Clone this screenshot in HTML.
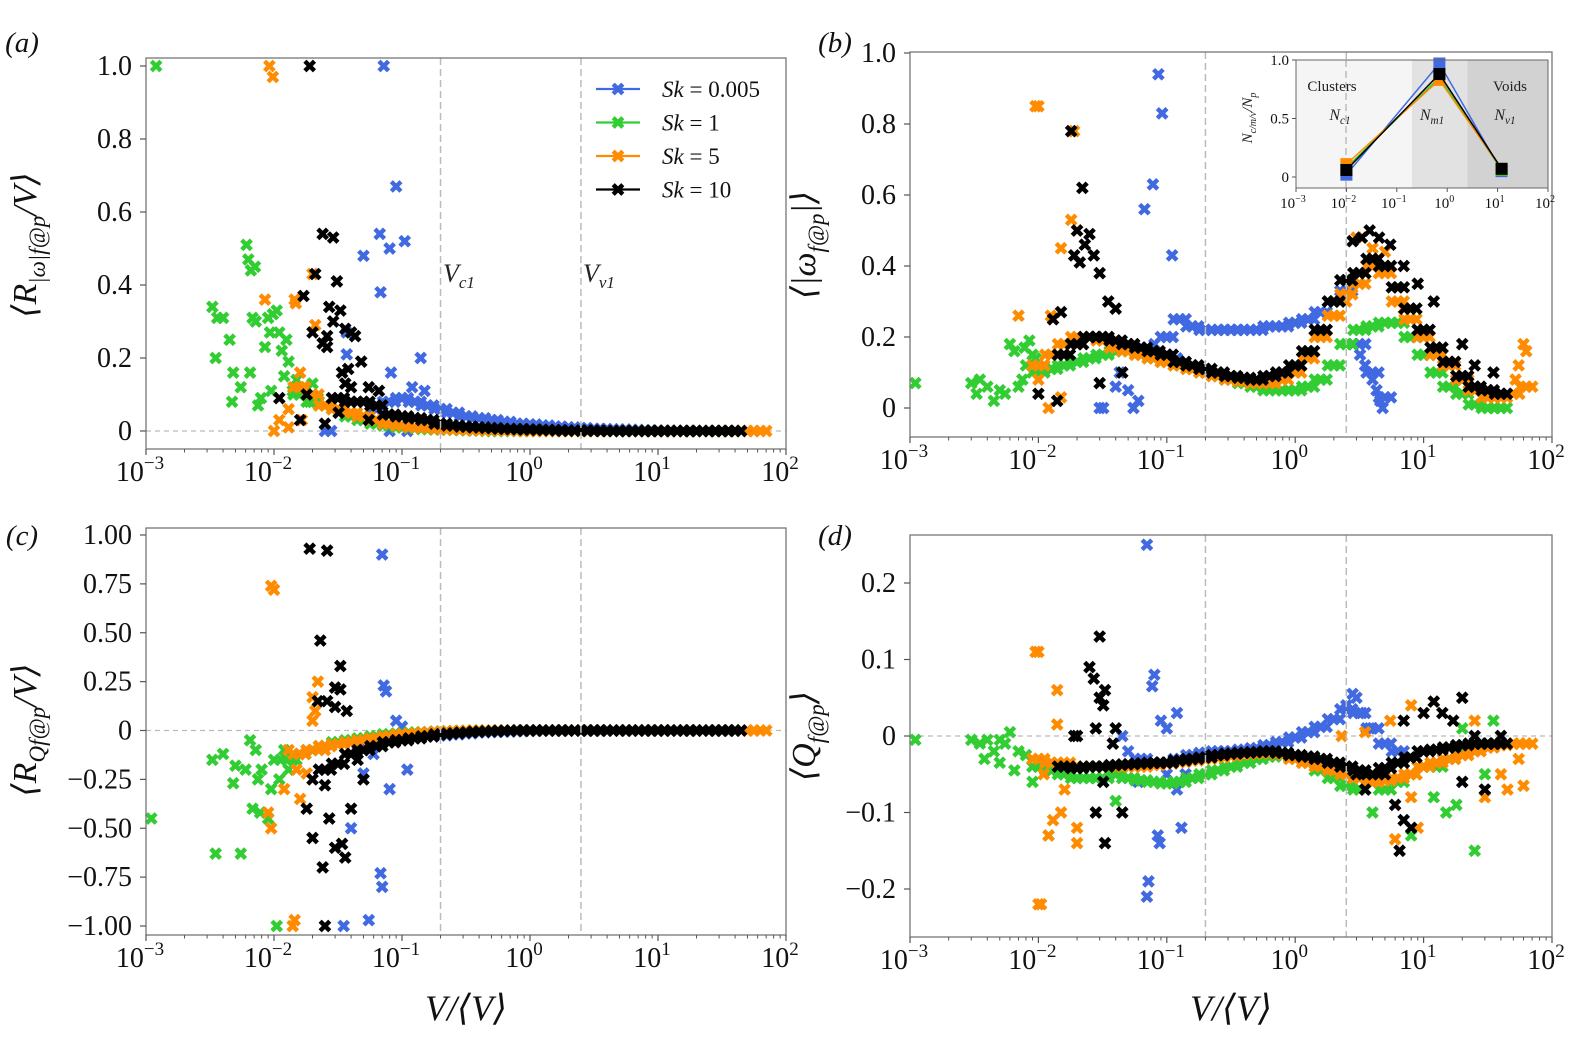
<!DOCTYPE html>
<html><head><meta charset="utf-8"><style>
html,body{margin:0;padding:0;background:#fff;}
svg, svg text{font-family:"Liberation Serif","DejaVu Serif",serif;}
svg{display:block;}
</style></head><body>
<svg id="fig" width="1575" height="1064" viewBox="0 0 1575 1064" xmlns="http://www.w3.org/2000/svg" font-family="Liberation Serif, serif"></svg>
<script>
// ---------- data ----------
const grid = [0.010,0.0126,0.0158,0.020,0.025,0.0316,0.040,0.050,0.063,0.079,0.10,0.126,0.158,0.20,0.25,0.316,0.40,0.50,0.63,0.79,1.0,1.26,1.58,2.0,2.5,3.16,4.0,5.0,6.3,7.9,10,12.6,15.8,20,25,31.6,40,50,63];
const seriesNames = ["Sk = 0.005","Sk = 1","Sk = 5","Sk = 10"];
const seriesColors = ["#4169e1","#32cd32","#ff8c00","#000000"];
const vLines = [0.2, 2.5];
const N = null;

// panel a bands
const aBandBlue = [N,N,N,N,N,N,N,N,0.06,0.08,0.09,0.08,0.07,0.06,0.05,0.04,0.035,0.03,0.025,0.02,0.018,0.015,0.012,0.01,0.008,0.006,0.005,0.004,0.003,0.002,0.001,0.001,0,0,0,0,0,N,N];
const aBandGreen = [N,N,0.1,0.08,0.07,0.06,0.04,0.03,0.02,0.015,0.01,0.008,0.005,0.004,0.003,0.002,0.001,0,0,0,0,0,0,0,0,0,0,0,0,0,0,0,0,0,0,0,0,N,N];
const aBandOrange = [N,N,0.12,0.1,0.07,0.06,0.05,0.04,0.03,0.02,0.015,0.01,0.008,0.005,0.004,0.003,0.002,0.002,0.001,0.001,0,0,0,0,0,0,0,0,0,0,0,0,0,0,0,0,0,0,0];
const aBandBlack = [N,N,N,N,N,0.09,0.08,0.08,0.07,0.045,0.04,0.035,0.03,0.02,0.015,0.012,0.01,0.008,0.006,0.005,0.004,0.003,0.002,0.001,0.001,0.001,0,0,0,0,0,0,0,0,0,0,0,N,N];
const aPtsBlueX = [0.072,0.09,0.067,0.08,0.105,0.05,0.068,0.037,0.14,0.037,0.082,0.12,0.15,0.025,0.028,0.08,0.11];
const aPtsBlueY = [1.0,0.67,0.54,0.50,0.52,0.48,0.38,0.27,0.20,0.21,0.16,0.12,0.11,0,0,0,0];
const aPtsGreenX = [0.0012,0.0033,0.0035,0.0036,0.004,0.0045,0.0047,0.0048,0.0055,0.0061,0.0063,0.0065,0.0066,0.0068,0.0071,0.0072,0.0075,0.0079,0.0085,0.009,0.0093,0.0095,0.0098,0.0105,0.011,0.0115,0.012,0.0125,0.013,0.014,0.015,0.017,0.019,0.02,0.022];
const aPtsGreenY = [1.0,0.34,0.20,0.31,0.31,0.25,0.08,0.16,0.12,0.51,0.47,0.16,0.44,0.31,0.45,0.30,0.07,0.09,0.23,0.31,0.27,0.11,0.32,0.33,0.27,0.22,0.15,0.25,0.19,0.11,0.14,0.12,0.08,0.13,0.09];
const aPtsOrangeX = [0.0092,0.0098,0.0085,0.0145,0.0148,0.02,0.021,0.01,0.011,0.013,0.013,0.0165,0.016,0.017];
const aPtsOrangeY = [1.0,0.97,0.36,0.36,0.35,0.43,0.29,0,0.03,0.06,0.01,0.03,0.16,0.12];
const aPtsBlackX = [0.019,0.024,0.029,0.021,0.031,0.017,0.027,0.033,0.029,0.02,0.026,0.036,0.04,0.043,0.024,0.026,0.048,0.034,0.038,0.036,0.04,0.055,0.066,0.011,0.018,0.032,0.016,0.025,0.055];
const aPtsBlackY = [1.0,0.54,0.53,0.43,0.41,0.37,0.34,0.33,0.30,0.27,0.26,0.28,0.27,0.26,0.24,0.23,0.19,0.16,0.17,0.13,0.12,0.12,0.11,0.09,0.10,0.05,0.03,0.02,0.03];

// panel b
const bBandBlue = [N,N,N,N,N,N,N,N,N,0.15,0.2,0.25,0.23,0.22,0.22,0.22,0.22,0.22,0.23,0.23,0.24,0.25,0.27,0.3,0.33,0.18,0.1,0.03,N,N,N,N,N,N,N,N,N,N,N];
const bBandGreen = [0.1,0.11,0.12,0.13,0.14,0.15,0.16,0.16,0.15,0.14,0.13,0.12,0.11,0.10,0.09,0.08,0.07,0.06,0.05,0.05,0.05,0.06,0.08,0.12,0.18,0.22,0.23,0.24,0.24,0.2,0.15,0.1,0.06,0.04,0.01,0,0,N,N];
const bBandOrange = [0.12,0.15,0.18,0.2,0.2,0.19,0.17,0.16,0.15,0.14,0.13,0.12,0.11,0.10,0.09,0.08,0.075,0.07,0.07,0.08,0.1,0.14,0.2,0.26,0.32,0.35,0.4,0.38,0.3,0.25,0.2,0.15,0.12,0.08,0.05,0.03,0.03,0.04,0.06];
const bBandBlack = [N,N,0.15,0.18,0.2,0.2,0.19,0.18,0.17,0.16,0.15,0.13,0.12,0.11,0.1,0.09,0.085,0.08,0.09,0.1,0.12,0.16,0.22,0.3,0.36,0.38,0.42,0.4,0.34,0.28,0.22,0.17,0.13,0.09,0.06,0.05,0.04,N,N];
const bPtsBlueX = [0.086,0.092,0.078,0.067,0.11,0.043,0.05,0.055,0.03,0.032,0.06,0.08,0.1,0.12,0.04,3.2,3.5,4,4.3,4.6,4.8];
const bPtsBlueY = [0.94,0.83,0.63,0.56,0.43,0.1,0.05,0,0,0,0.02,0.18,0.15,0.14,0.06,0.15,0.12,0.08,0.05,0.02,0];
const bPtsGreenX = [0.0011,0.003,0.0033,0.0035,0.004,0.0045,0.005,0.0055,0.006,0.0065,0.007,0.0075,0.0078,0.008,0.009,0.0085,0.0095,0.01,0.011];
const bPtsGreenY = [0.07,0.07,0.04,0.08,0.06,0.02,0.05,0.04,0.18,0.16,0.06,0.08,0.17,0.12,0.15,0.19,0.14,0.1,0.12];
const bPtsOrangeX = [0.0095,0.01,0.019,0.018,0.02,0.015,0.007,0.0125,0.01,0.012,0.015,60,63,55,52,3,4,5,7,2.5];
const bPtsOrangeY = [0.85,0.85,0.78,0.53,0.5,0.45,0.26,0.26,0.08,0,0.03,0.18,0.16,0.12,0.08,0.48,0.45,0.44,0.28,0.3];
const bPtsBlackX = [0.018,0.022,0.02,0.023,0.025,0.019,0.021,0.027,0.03,0.035,0.04,0.015,0.013,0.01,0.014,0.03,0.045,2.8,3.3,3.8,4.5,5.5,7,9,12,20,25,35];
const bPtsBlackY = [0.78,0.62,0.5,0.46,0.49,0.43,0.41,0.43,0.38,0.3,0.28,0.27,0.25,0.04,0.02,0.07,0.1,0.47,0.48,0.5,0.48,0.46,0.4,0.35,0.3,0.18,0.12,0.1];
// inset
const insetX = [0.01,0.7,12];
const insetBlue = [0.02,0.97,0.05];
const insetGreen = [0.08,0.85,0.06];
const insetOrange = [0.11,0.83,0.07];
const insetBlack = [0.06,0.88,0.07];

// panel c
const cBandBlue = [N,N,N,N,N,N,N,-0.08,-0.06,-0.05,-0.04,-0.035,-0.03,-0.025,-0.02,-0.015,-0.01,-0.008,-0.006,-0.004,-0.002,0,0,0,0,0,0,0,0,0,0,0,0,0,0,0,0,N,N];
const cBandGreen = [N,-0.15,-0.12,-0.1,-0.08,-0.06,-0.05,-0.04,-0.03,-0.02,-0.015,-0.01,-0.008,-0.005,-0.003,-0.002,0,0,0,0,0,0,0,0,0,0,0,0,0,0,0,0,0,0,0,0,0,N,N];
const cBandOrange = [N,N,-0.12,-0.1,-0.08,-0.07,-0.06,-0.05,-0.04,-0.03,-0.02,-0.015,-0.01,-0.006,-0.004,-0.002,0,0,0,0,0,0,0,0,0,0,0,0,0,0,0,0,0,0,0,0,0,0,0];
const cBandBlack = [N,N,N,N,-0.2,-0.17,-0.12,-0.1,-0.08,-0.06,-0.05,-0.04,-0.03,-0.02,-0.015,-0.01,-0.006,-0.004,-0.002,0,0,0,0,0,0,0,0,0,0,0,0,0,0,0,0,0,0,N,N];
const cPtsBlueX = [0.07,0.072,0.075,0.068,0.07,0.055,0.035,0.04,0.08,0.06,0.09,0.1,0.05,0.11];
const cPtsBlueY = [0.9,0.23,0.2,-0.73,-0.8,-0.97,-1.0,-0.5,-0.3,-0.12,0.05,0.02,-0.22,-0.2];
const cPtsGreenX = [0.0011,0.0033,0.0035,0.004,0.0048,0.0055,0.006,0.0065,0.0068,0.0072,0.0078,0.008,0.009,0.0095,0.01,0.0105,0.011,0.012,0.013,0.015,0.005,0.0075];
const cPtsGreenY = [-0.45,-0.15,-0.63,-0.12,-0.27,-0.63,-0.2,-0.05,-0.4,-0.1,-0.42,-0.2,-0.45,-0.3,-0.15,-1.0,-0.25,-0.1,-0.2,-0.15,-0.18,-0.25];
const cPtsOrangeX = [0.0095,0.01,0.014,0.0145,0.009,0.0095,0.012,0.013,0.015,0.02,0.021,0.02,0.022,0.025,0.018,0.016];
const cPtsOrangeY = [0.74,0.72,-1.0,-0.97,-0.42,-0.5,-0.3,-0.1,-0.2,0.05,0.1,0.17,0.25,-0.1,-0.22,-0.35];
const cPtsBlackX = [0.019,0.026,0.023,0.033,0.03,0.033,0.026,0.022,0.03,0.037,0.02,0.025,0.018,0.02,0.024,0.03,0.034,0.036,0.027,0.025,0.04,0.05,0.045];
const cPtsBlackY = [0.93,0.92,0.46,0.33,0.22,0.21,0.15,0.15,0.12,0.1,-0.25,-0.28,-0.4,-0.55,-0.7,-0.6,-0.58,-0.65,-0.45,-1.0,-0.4,-0.25,-0.15];

// panel d
const dBandBlue = [N,N,N,N,N,N,N,N,-0.03,-0.035,-0.035,-0.03,-0.025,-0.022,-0.02,-0.02,-0.018,-0.016,-0.012,-0.008,-0.002,0.005,0.012,0.022,0.035,0.03,0.01,-0.01,-0.02,N,N,N,N,N,N,N,N,N,N];
const dBandGreen = [-0.04,-0.045,-0.05,-0.055,-0.055,-0.055,-0.05,-0.055,-0.058,-0.06,-0.062,-0.06,-0.055,-0.05,-0.045,-0.04,-0.035,-0.03,-0.027,-0.025,-0.028,-0.035,-0.045,-0.055,-0.065,-0.07,-0.06,-0.07,-0.06,-0.05,-0.04,-0.04,-0.03,-0.02,-0.015,-0.01,-0.01,N,N];
const dBandOrange = [-0.03,-0.035,-0.035,-0.04,-0.04,-0.04,-0.04,-0.04,-0.04,-0.038,-0.036,-0.034,-0.032,-0.03,-0.028,-0.026,-0.024,-0.023,-0.022,-0.024,-0.03,-0.035,-0.04,-0.045,-0.05,-0.055,-0.06,-0.058,-0.055,-0.05,-0.04,-0.035,-0.03,-0.025,-0.02,-0.015,-0.012,-0.01,-0.01];
const dBandBlack = [N,N,-0.04,-0.042,-0.04,-0.04,-0.038,-0.037,-0.036,-0.035,-0.035,-0.032,-0.03,-0.028,-0.025,-0.023,-0.022,-0.021,-0.02,-0.022,-0.025,-0.027,-0.03,-0.035,-0.04,-0.045,-0.05,-0.042,-0.035,-0.028,-0.02,-0.018,-0.015,-0.012,-0.01,-0.01,-0.01,N,N];
const dPtsBlueX = [0.07,0.08,0.077,0.09,0.1,0.12,0.06,0.1,0.07,0.072,0.085,0.088,0.12,0.13,0.05,0.045,0.14,3,2.5,2.8,3.3,3.8];
const dPtsBlueY = [0.25,0.08,0.065,0.02,0.01,0.03,-0.06,-0.05,-0.21,-0.19,-0.13,-0.14,-0.07,-0.12,-0.02,0,-0.05,0.05,0.04,0.055,0.03,0.01];
const dPtsGreenX = [0.0011,0.003,0.0035,0.0038,0.004,0.0045,0.005,0.005,0.0055,0.006,0.0065,0.007,0.008,0.009,0.012,0.04,18,25,15,8,4,12,30,35,20];
const dPtsGreenY = [-0.005,-0.005,-0.01,-0.03,-0.005,-0.02,-0.035,-0.005,-0.01,0.005,-0.045,-0.02,-0.025,-0.06,-0.13,-0.085,-0.09,-0.15,-0.1,-0.13,-0.1,-0.08,-0.05,0.02,0.01];
const dPtsOrangeX = [0.0095,0.01,0.014,0.014,0.01,0.0105,0.012,0.013,0.015,0.016,0.02,0.02,0.011,2.3,3.5,5.5,8,12,6,8,9,25,40,45,55,60,30];
const dPtsOrangeY = [0.11,0.11,0.06,0.015,-0.22,-0.22,-0.13,-0.11,-0.1,-0.07,-0.12,-0.14,-0.05,0,0.005,0.02,0.04,0.045,-0.135,-0.08,-0.12,0.02,-0.05,-0.07,-0.03,-0.065,-0.08];
const dPtsBlackX = [0.03,0.025,0.027,0.033,0.03,0.032,0.02,0.019,0.028,0.032,0.028,0.033,0.045,0.038,0.04,3,3.5,5,6,7,8,6.5,7,10,12,14,17,20,25,30,20,40];
const dPtsBlackY = [0.13,0.09,0.075,0.06,0.05,0.04,0,0,0.01,-0.06,-0.1,-0.14,-0.1,-0.01,0.01,-0.05,-0.07,-0.05,-0.09,-0.11,-0.12,-0.15,0.02,0.03,0.045,0.03,0.02,0.05,0,-0.07,-0.06,0];

// ---------- drawing ----------
const NS = "http://www.w3.org/2000/svg";
const fig = document.getElementById("fig");
function mk(tag, attrs, parent){
  const e = document.createElementNS(NS, tag);
  for (const k in attrs) e.setAttribute(k, attrs[k]);
  if (tag === "text") e.setAttribute("font-family", "Liberation Serif, DejaVu Serif, serif");
  (parent||fig).appendChild(e);
  return e;
}
function xScale(p, v){ return p.x0 + (Math.log10(v) + 3) * (p.x1 - p.x0) / 5; }
function yScale(p, v){ return p.yz + (v - p.vz) * (p.yo - p.yz) / (p.vo - p.vz); }

function marker(g, cx, cy, color, name){
  const r = 4.8;
  const m = mk("path", {d:`M${cx-r},${cy-r}L${cx+r},${cy+r}M${cx+r},${cy-r}L${cx-r},${cy+r}`, stroke:color, "stroke-width":4.4, fill:"none"}, g);
  
  
}
const bandOffsets = [-6, 0, 6]; // pixel offsets to draw dense band clusters

function drawPanel(p){
  const g = mk("g", {});
  
  
  if (p.zero){
    const z = mk("line", {x1:p.x0, x2:p.x1, y1:yScale(p,0), y2:yScale(p,0), stroke:"#bbb", "stroke-width":1.3, "stroke-dasharray":"5,4"}, g);
    
    
  }
  for (let s = 0; s < 4; s++){
    const sg = mk("g", {}, g);
    
    
    const band = p.bands[s];
    for (let i = 0; i < grid.length; i++){
      if (band[i] === null) continue;
      const cx = xScale(p, grid[i]), cy = yScale(p, band[i]);
      bandOffsets.forEach(o => marker(sg, cx + o, cy, seriesColors[s], 'band-point'));
    }
    const px = p.ptsX[s], py = p.ptsY[s];
    for (let i = 0; i < px.length; i++){
      marker(sg, xScale(p, px[i]), yScale(p, py[i]), seriesColors[s], 'scatter-point');
    }
  }
  vLines.forEach((v, i) => {
    const l = mk("line", {x1:xScale(p,v), x2:xScale(p,v), y1:p.top, y2:p.bot, stroke:"#bbb", "stroke-width":1.5, "stroke-dasharray":"7,4"}, g);
    
    
  });
  const fr = mk("rect", {x:p.x0, y:p.top, width:p.x1-p.x0, height:p.bot-p.top, fill:"none", stroke:"#777", "stroke-width":1.3}, g);
  
  
  const xt = mk("g", {}, g);
  
  
  for (let e = -3; e <= 2; e++){
    const x = xScale(p, Math.pow(10, e));
    mk("line", {x1:x, x2:x, y1:p.bot, y2:p.bot+6, stroke:"#555", "stroke-width":1.2}, xt);
    const t = mk("text", {x:x-6, y:p.bot+32, "font-size":28, "text-anchor":"middle", fill:"#111"}, xt);
    t.textContent = "10";
    const sp = mk("tspan", {dy:-12, "font-size":19}, t);
    sp.textContent = e < 0 ? "\u2212" + (-e) : String(e);
    
    
    if (e < 2) for (let k = 2; k <= 9; k++){
      const xm = xScale(p, k * Math.pow(10, e));
      mk("line", {x1:xm, x2:xm, y1:p.bot, y2:p.bot+3.5, stroke:"#555", "stroke-width":1}, xt);
    }
  }
  const yt = mk("g", {}, g);
  
  
  p.yTicks.forEach((v, i) => {
    const y = yScale(p, v);
    mk("line", {x1:p.x0-6, x2:p.x0, y1:y, y2:y, stroke:"#555", "stroke-width":1.2}, yt);
    const t = mk("text", {x:p.x0-14, y:y+9, "font-size":28, "text-anchor":"end", fill:"#111"}, yt);
    t.textContent = p.yLabels[i];
    
    
  });
  return g;
}

const panelA = {name:"panel-a", x0:146, x1:786, top:58, bot:449, yz:431, vz:0, yo:66, vo:1, zero:true,
  bands:[aBandBlue,aBandGreen,aBandOrange,aBandBlack],
  ptsX:[aPtsBlueX,aPtsGreenX,aPtsOrangeX,aPtsBlackX], ptsY:[aPtsBlueY,aPtsGreenY,aPtsOrangeY,aPtsBlackY],
  yTicks:[0,0.2,0.4,0.6,0.8,1.0], yLabels:["0","0.2","0.4","0.6","0.8","1.0"]};
const panelB = {name:"panel-b", x0:910, x1:1552, top:52, bot:437, yz:408, vz:0, yo:53, vo:1, zero:false,
  bands:[bBandBlue,bBandGreen,bBandOrange,bBandBlack],
  ptsX:[bPtsBlueX,bPtsGreenX,bPtsOrangeX,bPtsBlackX], ptsY:[bPtsBlueY,bPtsGreenY,bPtsOrangeY,bPtsBlackY],
  yTicks:[0,0.2,0.4,0.6,0.8,1.0], yLabels:["0","0.2","0.4","0.6","0.8","1.0"]};
const panelC = {name:"panel-c", x0:146, x1:786, top:528, bot:935, yz:730.5, vz:0, yo:535, vo:1, zero:true,
  bands:[cBandBlue,cBandGreen,cBandOrange,cBandBlack],
  ptsX:[cPtsBlueX,cPtsGreenX,cPtsOrangeX,cPtsBlackX], ptsY:[cPtsBlueY,cPtsGreenY,cPtsOrangeY,cPtsBlackY],
  yTicks:[-1,-0.75,-0.5,-0.25,0,0.25,0.5,0.75,1], yLabels:["\u22121.00","\u22120.75","\u22120.50","\u22120.25","0","0.25","0.50","0.75","1.00"]};
const panelD = {name:"panel-d", x0:910, x1:1552, top:535, bot:937, yz:736, vz:0, yo:659.5, vo:0.1, zero:true,
  bands:[dBandBlue,dBandGreen,dBandOrange,dBandBlack],
  ptsX:[dPtsBlueX,dPtsGreenX,dPtsOrangeX,dPtsBlackX], ptsY:[dPtsBlueY,dPtsGreenY,dPtsOrangeY,dPtsBlackY],
  yTicks:[-0.2,-0.1,0,0.1,0.2], yLabels:["\u22120.2","\u22120.1","0","0.1","0.2"]};

drawPanel(panelA);
drawPanel(panelB);
drawPanel(panelC);
drawPanel(panelD);

// ---------- inset in panel b ----------
const ins = {x0:1296, x1:1548, top:60, bot:188, yz:177, vz:0, yo:60, vo:1};
const ig = mk("g", {});


mk("rect", {x:ins.x0, y:ins.top, width:xScale(ins,0.2)-ins.x0, height:ins.bot-ins.top, fill:"#f5f5f5"}, ig);
mk("rect", {x:xScale(ins,0.2), y:ins.top, width:xScale(ins,2.5)-xScale(ins,0.2), height:ins.bot-ins.top, fill:"#e2e2e2"}, ig);
mk("rect", {x:xScale(ins,2.5), y:ins.top, width:ins.x1-xScale(ins,2.5), height:ins.bot-ins.top, fill:"#d2d2d2"}, ig);
mk("line", {x1:1346, x2:1346, y1:ins.top, y2:ins.bot, stroke:"#bbb", "stroke-width":1.5, "stroke-dasharray":"7,4"}, ig);
[insetBlue, insetGreen, insetOrange, insetBlack].forEach((arr, s) => {
  const pts = insetX.map((x, i) => xScale(ins,x) + "," + yScale(ins,arr[i])).join(" ");
  const pl = mk("polyline", {points:pts, fill:"none", stroke:seriesColors[s], "stroke-width":1.5}, ig);
  
  
  insetX.forEach((x, i) => {
    const r = mk("rect", {x:xScale(ins,x)-6, y:yScale(ins,arr[i])-6, width:12, height:12, fill:seriesColors[s]}, ig);
    
    
  });
});
mk("rect", {x:ins.x0, y:ins.top, width:ins.x1-ins.x0, height:ins.bot-ins.top, fill:"none", stroke:"#666", "stroke-width":1}, ig);
for (let e = -3; e <= 2; e++){
  const x = xScale(ins, Math.pow(10,e));
  mk("line", {x1:x, x2:x, y1:ins.bot, y2:ins.bot+4, stroke:"#555"}, ig);
  const t = mk("text", {x:x-3, y:ins.bot+20, "font-size":15, "text-anchor":"middle", fill:"#111"}, ig);
  t.textContent = "10";
  const sp = mk("tspan", {dy:-6, "font-size":10}, t);
  sp.textContent = e < 0 ? "\u2212" + (-e) : String(e);
}
[[0,"0"],[0.5,"0.5"],[1,"1.0"]].forEach(([v,l]) => {
  const y = yScale(ins, v);
  mk("line", {x1:ins.x0-4, x2:ins.x0, y1:y, y2:y, stroke:"#555"}, ig);
  const t = mk("text", {x:ins.x0-7, y:y+5, "font-size":15, "text-anchor":"end", fill:"#111"}, ig);
  t.textContent = l;
});
function itext(x, y, txt, sub, size, italic){
  const t = mk("text", {x:x, y:y, "font-size":size, "text-anchor":"middle", fill:"#222", "font-style":italic?"italic":"normal"}, ig);
  t.textContent = txt;
  if (sub){ const s = mk("tspan", {dy:4, "font-size":size*0.7}, t); s.textContent = sub; }
  return t;
}
itext(1332, 91, "Clusters", "", 15, false);
itext(1510, 91, "Voids", "", 15, false);
itext(1340, 120, "N", "c1", 16, true);
itext(1432, 120, "N", "m1", 16, true);
itext(1505, 120, "N", "v1", 16, true);
const iyl = mk("text", {x:0, y:0, "font-size":15, "font-style":"italic", "text-anchor":"middle", fill:"#222", transform:"translate(1252,118) rotate(-90)"}, ig);
iyl.textContent = "N";
const iys = mk("tspan", {dy:4, "font-size":10}, iyl); iys.textContent = "c/m/v";
const iyp = mk("tspan", {dy:-4}, iyl); iyp.textContent = "/N";
const iyq = mk("tspan", {dy:4, "font-size":10}, iyl); iyq.textContent = "p";

// ---------- static text ----------
const T = [
  ["panel-label-a", 22, 52, "(a)"],
  ["panel-label-b", 835, 52, "(b)"],
  ["panel-label-c", 22, 545, "(c)"],
  ["panel-label-d", 835, 545, "(d)"],
];
T.forEach(a => {
  const t = mk("text", {x:a[1], y:a[2], "font-size":29, "font-style":"italic", "text-anchor":"middle", fill:"#111"});
  t.textContent = a[3];
  
  
});
function ylabel(name, cx, cy, main, sub, tail){
  const t = mk("text", {x:0, y:0, "font-size":34, "font-style":"italic", "text-anchor":"middle", fill:"#111", transform:`translate(${cx},${cy}) rotate(-90)`});
  
  
  const a = mk("tspan", {}, t); a.textContent = "\u27E8" + main;
  const b = mk("tspan", {dy:9, "font-size":23}, t); b.textContent = sub;
  const c = mk("tspan", {dy:-9}, t); c.textContent = tail + "\u27E9";
}
ylabel("y-axis-title-a", 36, 245, "R", "|\u03C9|f@p", "/V");
ylabel("y-axis-title-b", 815, 245, "|\u03C9", "f@p", "|");
ylabel("y-axis-title-c", 36, 730, "R", "Qf@p", "/V");
ylabel("y-axis-title-d", 815, 736, "Q", "f@p", "");
[[466,"x-axis-title-c"],[1231,"x-axis-title-d"]].forEach(([x,n]) => {
  const t = mk("text", {x:x, y:1020, "font-size":36, "font-style":"italic", "text-anchor":"middle", fill:"#111"});
  t.textContent = "V/\u27E8V\u27E9";
  
  
});
[[443,"V","c1","vc1-annotation"],[583,"V","v1","vv1-annotation"]].forEach(([x,m,s,n]) => {
  const t = mk("text", {x:x, y:282, "font-size":26, "font-style":"italic", fill:"#222"});
  t.textContent = m;
  const sp = mk("tspan", {dy:6, "font-size":17}, t); sp.textContent = s;
  
  
});
const lg = mk("g", {});


seriesNames.forEach((nm, i) => {
  const y = 89 + i * 33.5;
  const e = mk("g", {}, lg);
  
  
  mk("line", {x1:596, x2:640, y1:y, y2:y, stroke:seriesColors[i], "stroke-width":2.2}, e);
  marker(e, 618, y, seriesColors[i], 'legend-marker');
  const t = mk("text", {x:662, y:y+8, "font-size":23, fill:"#111"}, e);
  const a = mk("tspan", {"font-style":"italic"}, t); a.textContent = "Sk";
  const b = mk("tspan", {}, t); b.textContent = nm.slice(2);
});
</script>
</body></html>
